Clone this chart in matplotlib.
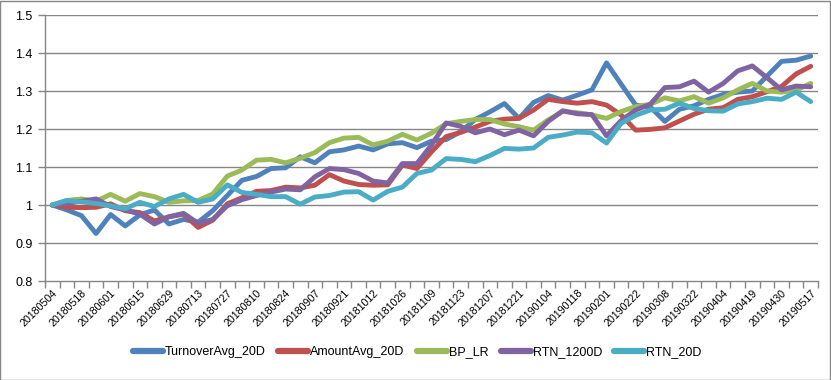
import matplotlib
matplotlib.use("Agg")
import matplotlib.pyplot as plt
from matplotlib.patches import Rectangle
import numpy as np

dates = ["20180504", "20180511", "20180518", "20180525", "20180601", "20180608",
         "20180615", "20180622", "20180629", "20180706", "20180713", "20180720",
         "20180727", "20180803", "20180810", "20180817", "20180824", "20180831",
         "20180907", "20180914", "20180921", "20180928", "20181012", "20181019",
         "20181026", "20181102", "20181109", "20181116", "20181123", "20181130",
         "20181207", "20181214", "20181221", "20181228", "20190104", "20190111",
         "20190118", "20190125", "20190201", "20190215", "20190222", "20190301",
         "20190308", "20190315", "20190322", "20190329", "20190404", "20190412",
         "20190419", "20190426", "20190430", "20190510", "20190517"]

turnover_avg_20d = [1.000, 0.987, 0.972, 0.925, 0.975, 0.945, 0.974, 0.987, 0.950, 0.962,
                    0.955, 0.985, 1.025, 1.065, 1.075, 1.096, 1.098, 1.127, 1.111, 1.140,
                    1.145, 1.155, 1.145, 1.161, 1.164, 1.151, 1.168, 1.172, 1.193, 1.225,
                    1.245, 1.267, 1.228, 1.270, 1.288, 1.276, 1.289, 1.303, 1.374, 1.318,
                    1.263, 1.258, 1.220, 1.252, 1.261, 1.278, 1.291, 1.297, 1.300, 1.339,
                    1.378, 1.381, 1.392]

amount_avg_20d = [1.000, 0.994, 0.993, 0.994, 1.003, 0.985, 0.980, 0.958, 0.969, 0.976,
                  0.941, 0.960, 1.003, 1.019, 1.036, 1.038, 1.047, 1.045, 1.052, 1.080,
                  1.063, 1.054, 1.052, 1.053, 1.105, 1.096, 1.140, 1.180, 1.191, 1.205,
                  1.220, 1.226, 1.228, 1.250, 1.278, 1.272, 1.268, 1.272, 1.263, 1.237,
                  1.197, 1.199, 1.203, 1.221, 1.239, 1.252, 1.256, 1.278, 1.285, 1.298,
                  1.312, 1.345, 1.365]

bp_lr = [1.000, 1.012, 1.016, 1.010, 1.028, 1.010, 1.030, 1.022, 1.007, 1.011,
         1.012, 1.029, 1.076, 1.092, 1.118, 1.120, 1.111, 1.123, 1.138, 1.164,
         1.176, 1.178, 1.158, 1.168, 1.186, 1.171, 1.189, 1.214, 1.220, 1.225,
         1.225, 1.213, 1.206, 1.197, 1.224, 1.246, 1.243, 1.237, 1.228, 1.246,
         1.259, 1.265, 1.282, 1.274, 1.285, 1.268, 1.282, 1.303, 1.320, 1.300,
         1.297, 1.302, 1.320]

rtn_1200d = [1.000, 1.004, 1.010, 1.016, 0.996, 0.987, 0.976, 0.950, 0.969, 0.978,
             0.952, 0.962, 0.998, 1.014, 1.025, 1.034, 1.042, 1.040, 1.074, 1.096,
             1.093, 1.083, 1.063, 1.058, 1.109, 1.109, 1.158, 1.216, 1.207, 1.190,
             1.200, 1.185, 1.197, 1.182, 1.220, 1.248, 1.240, 1.238, 1.182, 1.222,
             1.250, 1.265, 1.309, 1.311, 1.326, 1.297, 1.320, 1.353, 1.366, 1.335,
             1.303, 1.313, 1.311]

rtn_20d = [1.000, 1.012, 1.008, 1.004, 0.998, 0.990, 1.007, 0.996, 1.016, 1.028,
           1.007, 1.016, 1.053, 1.033, 1.028, 1.022, 1.022, 1.002, 1.021, 1.025,
           1.034, 1.035, 1.013, 1.036, 1.047, 1.083, 1.092, 1.122, 1.120, 1.114,
           1.130, 1.149, 1.147, 1.150, 1.178, 1.184, 1.192, 1.190, 1.163, 1.215,
           1.236, 1.250, 1.252, 1.268, 1.254, 1.248, 1.247, 1.266, 1.272, 1.281,
           1.278, 1.297, 1.272]

series_names = ["TurnoverAvg_20D", "AmountAvg_20D", "BP_LR", "RTN_1200D", "RTN_20D"]
series_values = [turnover_avg_20d, amount_avg_20d, bp_lr, rtn_1200d, rtn_20d]
colors = ["#4F81BD", "#C0504D", "#9BBB59", "#8064A2", "#4BACC6"]

y_ticks = [0.8, 0.9, 1.0, 1.1, 1.2, 1.3, 1.4, 1.5]
y_labels = ["0.8", "0.9", "1", "1.1", "1.2", "1.3", "1.4", "1.5"]

plt.rcParams['font.family'] = ['Liberation Sans', 'DejaVu Sans']

fig = plt.figure(figsize=(8.31, 3.80), dpi=100)
ax = fig.add_axes([45 / 831, 1 - 281 / 380, (818 - 45) / 831, (281 - 15) / 380])

x = np.arange(len(dates))
for name, vals, c in zip(series_names, series_values, colors):
    ax.plot(x, vals, color=c, lw=3.5, label=name, solid_joinstyle='round',
            solid_capstyle='round')

grid_c = "#868686"
ax.set_xlim(-0.5, len(dates) - 0.5)
ax.set_ylim(0.8, 1.5)
ax.set_yticks(y_ticks)
ax.set_yticklabels(y_labels, fontsize=9)
for yv in y_ticks[1:]:
    ax.axhline(yv, color=grid_c, lw=1.0, zorder=0)

# category boundary ticks
ax.set_xticks(np.arange(-0.5, len(dates), 1.0))
ax.set_xticklabels([])
ax.tick_params(axis='x', which='major', direction='out', length=5, color=grid_c, width=1)
ax.set_xticks(x[::2], minor=True)
ax.set_xticklabels([dates[i] for i in x[::2]], minor=True, rotation=45,
                   ha='right', va='top', rotation_mode='anchor', fontsize=7.7)
ax.tick_params(axis='x', which='minor', length=0, pad=5)
ax.tick_params(axis='y', direction='out', length=5, color=grid_c, width=1, pad=4)

for s in ['top', 'right']:
    ax.spines[s].set_visible(False)
for s in ['left', 'bottom']:
    ax.spines[s].set_color(grid_c)
    ax.spines[s].set_linewidth(1.0)

leg = fig.legend(loc='center', bbox_to_anchor=(0.502, 0.073), ncol=5, frameon=False,
                 fontsize=9, handlelength=2.4, handletextpad=0.15, columnspacing=1.0)
for h in leg.get_lines():
    h.set_linewidth(4.5)

fig.patches.append(Rectangle((0.0006, 0.0013), 0.9985, 0.997, transform=fig.transFigure,
                             fill=False, edgecolor=grid_c, lw=1.0))

fig.savefig("out.png", dpi=100)
